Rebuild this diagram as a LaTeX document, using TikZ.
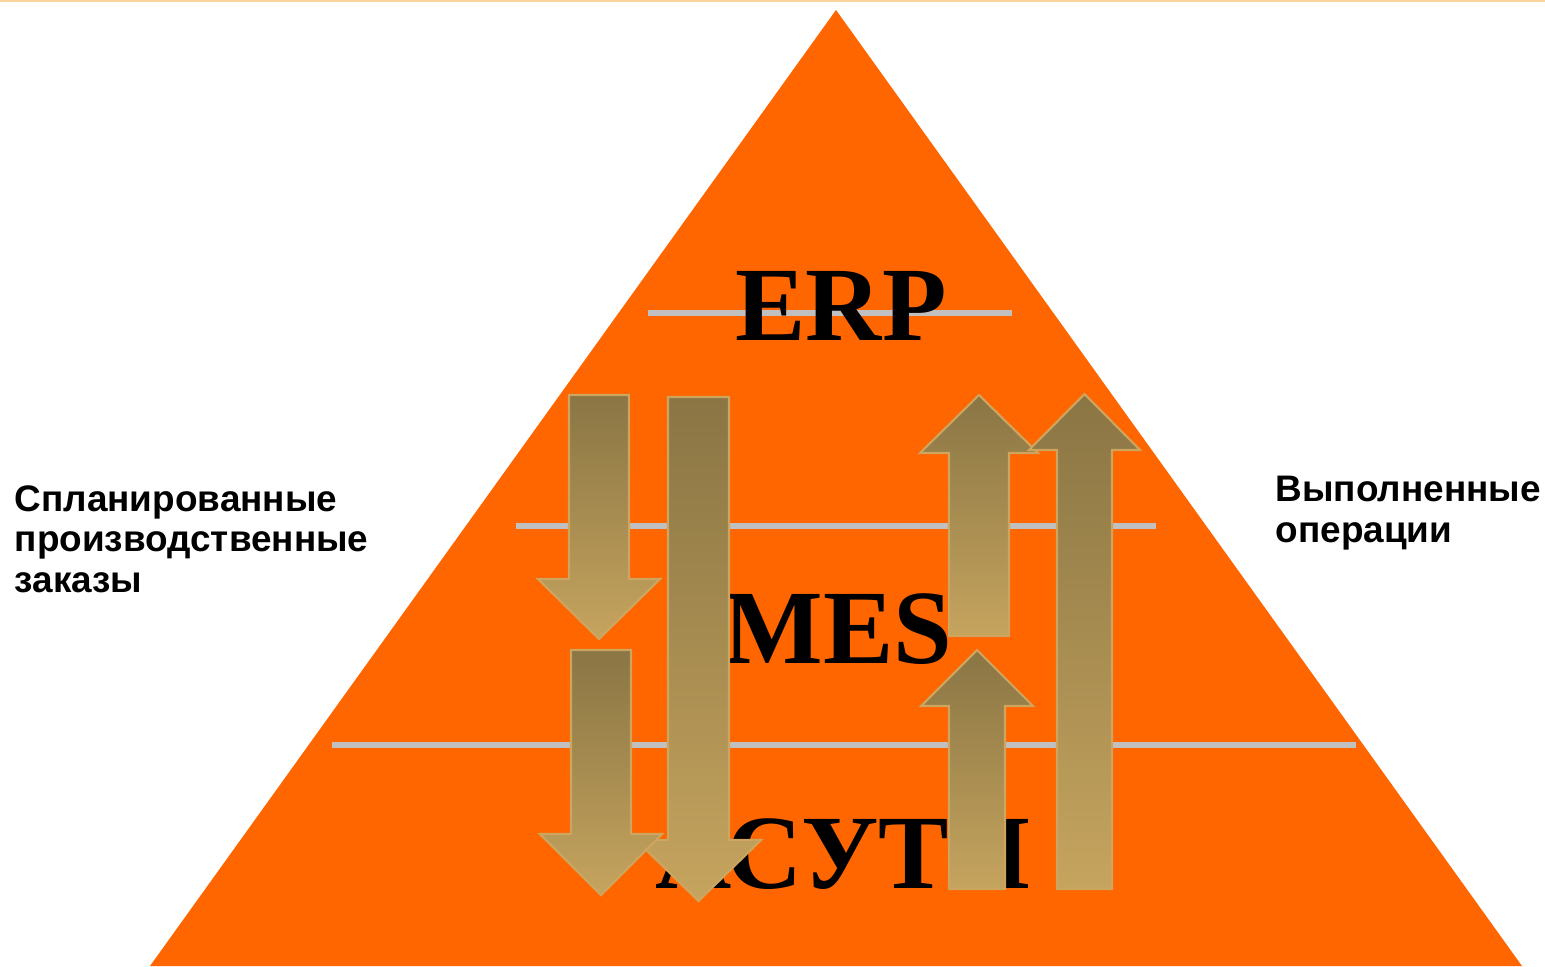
\documentclass[tikz,border=0pt]{standalone}
\usepackage{fontspec}
\setmainfont{Liberation Serif}
\setsansfont{Liberation Sans}
\usetikzlibrary{positioning}
\definecolor{pyrorange}{RGB}{255,102,0}
\definecolor{levelgray}{RGB}{192,192,192}
\definecolor{flowdark}{RGB}{138,117,68}
\definecolor{flowlight}{RGB}{197,164,94}
\definecolor{flowedge}{RGB}{205,165,95}
\definecolor{topstrip}{RGB}{250,214,156}
\tikzstyle{level} = [draw=levelgray, line width=1.7pt]
\tikzstyle{levelname} = [font=\bfseries\fontsize{30}{30}\selectfont, inner sep=0pt, anchor=base]
\tikzstyle{flow} = [draw=flowedge, line width=0.6pt, top color=flowdark, bottom color=flowlight]
\tikzstyle{sidetext} = [font=\sffamily\bfseries\fontsize{10.5}{11.5}\selectfont, align=left, inner sep=0pt, anchor=base west]
% shaft left, shaft right, tail y, head base y, overhang, tip y
\newcommand{\flowarrow}[6]{%
  \path[flow] (#1,#3) -- (#2,#3) -- (#2,#4) -- ++(#5,0) -- ({(#1+#2)/2},#6)
    -- ({#1-#5},#4) -- (#1,#4) -- cycle;}

\begin{document}
\begin{tikzpicture}[x=0.01cm, y=-0.01cm]
  \useasboundingbox (0,0) rectangle (1545,966);
  \draw[topstrip, line width=0.6pt] (0,1) -- (1545,1);
  \fill[pyrorange] (836,10) -- (1522,966) -- (150,966) -- cycle;

  \draw[level] (648,313) -- (1012,313);
  \draw[level] (516,526) -- (1156,526);
  \draw[level] (332,745) -- (1356,745);

  \node[levelname] (erp) at (841,340) {ERP};
  \node[levelname] (mes) at (838,663) {MES};
  \node[levelname] (asutp) at (843,888) {АСУТП};

  \flowarrow{569}{629}{395}{579}{31}{639}
  \flowarrow{668}{729}{397}{840}{32}{901}
  \flowarrow{571}{631}{650}{834}{31}{895}

  \flowarrow{949}{1009}{636}{453}{29}{395}
  \flowarrow{1057}{1112}{889}{450}{28}{394}
  \flowarrow{949}{1005}{889}{706}{28}{650}

  \node[sidetext] (planned) at (14,592) {Спланированные\\производственные\\заказы};
  \node[sidetext] (done) at (1275,542) {Выполненные\\операции};
\end{tikzpicture}
\end{document}
